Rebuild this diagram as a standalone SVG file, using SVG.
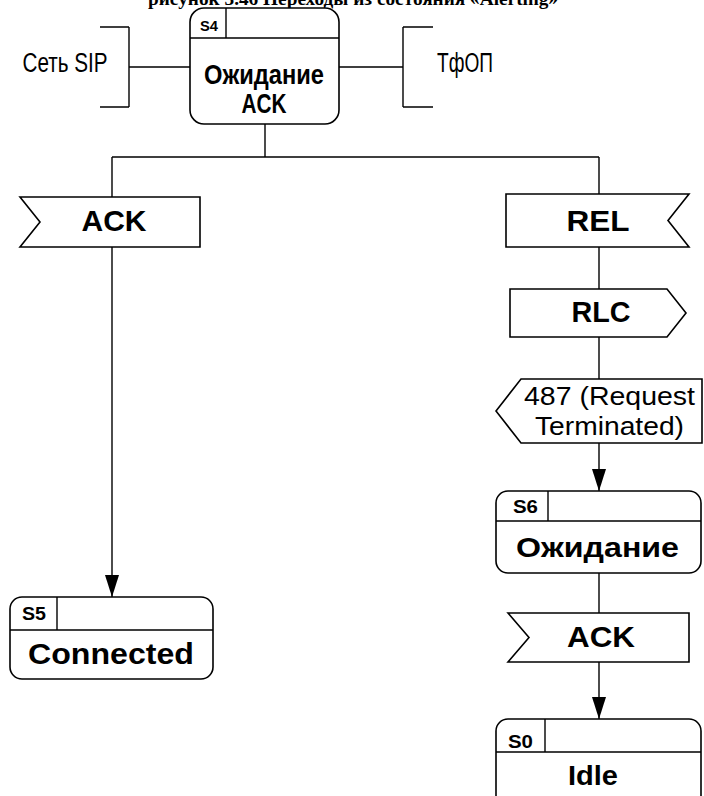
<svg xmlns="http://www.w3.org/2000/svg" width="704" height="796" viewBox="0 0 704 796">
<defs>
<style>
.box{fill:#fff;stroke:#000;stroke-width:1.6}
.ln{fill:none;stroke:#000;stroke-width:1.4}
.b{font-family:"Liberation Sans",Arial,sans-serif;font-weight:bold;fill:#000;text-anchor:middle}
.r{font-family:"Liberation Sans",Arial,sans-serif;fill:#000;text-anchor:middle}
.t{font-family:"Liberation Serif","Times New Roman",serif;font-weight:bold;fill:#000;text-anchor:middle}
</style>
<marker id="down" markerUnits="userSpaceOnUse" markerWidth="24" markerHeight="16" viewBox="0 0 24 16" refX="23" refY="8" orient="auto">
<path d="M1,1 L23,8 L1,15 Z" fill="#000"/>
</marker>
</defs>
<rect width="704" height="796" fill="#fff"/>
<text class="t" x="353" y="5" font-size="18" textLength="410" lengthAdjust="spacingAndGlyphs">рисунок 3.46 Переходы из состояния «Alerting»</text>

<g id="connectors">
<path class="ln" d="M129,27 H100 M129,27 V107 M129,107 H100 M129,67 H190"/>
<path class="ln" d="M403,27 H433 M403,27 V107 M403,107 H433 M339,67 H403"/>
<path class="ln" d="M265,124 V157 M112,157 H599 M112,157 V197 M599,157 V194"/>
<path class="ln" d="M112,247 V597" marker-end="url(#down)"/>
<path class="ln" d="M599,247 V289 M599,337 V379"/>
<path class="ln" d="M599,443 V491" marker-end="url(#down)"/>
<path class="ln" d="M599,573 V613"/>
<path class="ln" d="M599,662 V719" marker-end="url(#down)"/>
</g>

<g id="env-sip"><text class="r" x="65" y="72" font-size="27" textLength="85" lengthAdjust="spacingAndGlyphs">Сеть SIP</text></g>
<g id="env-pstn"><text class="r" x="465" y="72" font-size="27" textLength="56" lengthAdjust="spacingAndGlyphs">ТфОП</text></g>

<g id="S4">
<rect class="box" x="190" y="8" width="149" height="116" rx="14"/>
<path class="ln" d="M190,38 H339 M226,8 V38"/>
<text class="b" x="209" y="31" font-size="15" textLength="18" lengthAdjust="spacingAndGlyphs">S4</text>
<text class="b" x="264" y="84" font-size="28" textLength="120" lengthAdjust="spacingAndGlyphs">Ожидание</text>
<text class="b" x="264" y="113" font-size="28" textLength="45" lengthAdjust="spacingAndGlyphs">ACK</text>
</g>

<g id="in-ack1">
<polygon class="box" points="20,197 200,197 200,247 20,247 40,222"/>
<text class="b" x="114" y="231" font-size="30" textLength="65" lengthAdjust="spacingAndGlyphs">ACK</text>
</g>

<g id="in-rel">
<polygon class="box" points="506,194 689,194 668,220.5 689,247 506,247"/>
<text class="b" x="598" y="231" font-size="30" textLength="63" lengthAdjust="spacingAndGlyphs">REL</text>
</g>

<g id="out-rlc">
<polygon class="box" points="510,289 667,289 686,313 667,337 510,337"/>
<text class="b" x="601" y="322" font-size="29" textLength="59" lengthAdjust="spacingAndGlyphs">RLC</text>
</g>

<g id="out-487">
<polygon class="box" points="521,379 702,379 702,443 521,443 496,411"/>
<text class="r" x="609.5" y="405" font-size="25" textLength="171" lengthAdjust="spacingAndGlyphs">487 (Request</text>
<text class="r" x="609.5" y="435" font-size="25" textLength="149" lengthAdjust="spacingAndGlyphs">Terminated)</text>
</g>

<g id="S5">
<rect class="box" x="10" y="597" width="203" height="82" rx="12"/>
<path class="ln" d="M10,630 H213 M57,597 V630"/>
<text class="b" x="34" y="620" font-size="18" textLength="24" lengthAdjust="spacingAndGlyphs">S5</text>
<text class="b" x="111" y="664" font-size="29" textLength="166" lengthAdjust="spacingAndGlyphs">Connected</text>
</g>

<g id="S6">
<rect class="box" x="496" y="491" width="205" height="82" rx="12"/>
<path class="ln" d="M496,521 H701 M548,491 V521"/>
<text class="b" x="525.5" y="513" font-size="18" textLength="25" lengthAdjust="spacingAndGlyphs">S6</text>
<text class="b" x="597.5" y="557" font-size="28" textLength="163" lengthAdjust="spacingAndGlyphs">Ожидание</text>
</g>

<g id="in-ack2">
<polygon class="box" points="508,613 689,613 689,662 508,662 529,637.5"/>
<text class="b" x="601" y="647" font-size="29" textLength="68" lengthAdjust="spacingAndGlyphs">ACK</text>
</g>

<g id="S0">
<rect class="box" x="496" y="719" width="205" height="90" rx="12"/>
<path class="ln" d="M496,752 H701 M545,719 V752"/>
<text class="b" x="520.5" y="748" font-size="18" textLength="25" lengthAdjust="spacingAndGlyphs">S0</text>
<text class="b" x="593" y="785" font-size="28" textLength="50" lengthAdjust="spacingAndGlyphs">Idle</text>
</g>
</svg>
